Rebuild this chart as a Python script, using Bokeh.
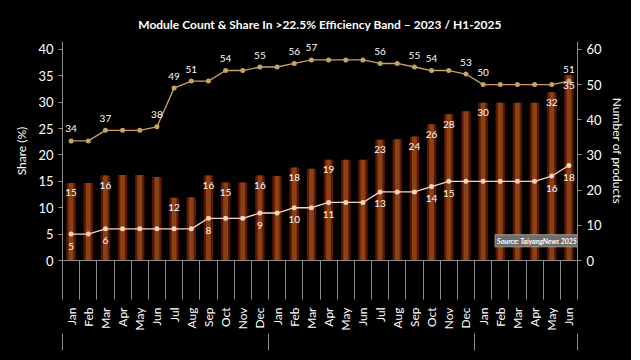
import math
from bokeh.plotting import figure
from bokeh.layouts import column
from bokeh.models import (Range1d, LinearAxis, ColumnDataSource, Legend,
                          LegendItem, Label, FixedTicker, Title)
from bokeh.core.properties import value
from bokeh.embed import file_html
from bokeh.resources import INLINE

years = ["2023"] * 12 + ["2024"] * 12 + ["H1-2025"] * 6
months = ["Jan", "Feb", "Mar", "Apr", "May", "Jun", "Jul", "Aug", "Sep", "Oct", "Nov", "Dec"] * 2 + \
         ["Jan", "Feb", "Mar", "Apr", "May", "Jun"]
share = [14.7, 14.7, 16.1, 16.2, 16.2, 15.8, 11.9, 12.0, 16.1, 14.8, 14.8, 16.1,
         16.0, 17.6, 17.4, 19.1, 19.1, 19.1, 22.9, 23.0, 23.5, 25.8, 27.7, 28.3,
         29.9, 29.9, 29.9, 29.9, 31.9, 35.1]
share_labels = ["15", "", "16", "", "", "", "12", "", "16", "15", "", "16",
                "", "18", "", "19", "", "", "23", "", "24", "26", "28", "",
                "30", "", "", "", "32", "35"]
count_hi = [5, 5, 6, 6, 6, 6, 6, 6, 8, 8, 8, 9,
            9, 10, 10, 11, 11, 11, 13, 13, 13, 14, 15, 15,
            15, 15, 15, 15, 16, 18]
count_hi_labels = ["5", "", "6", "", "", "", "", "", "8", "", "", "9",
                   "", "10", "", "11", "", "", "13", "", "", "14", "15", "",
                   "", "", "", "", "16", "18"]
total = [34, 34, 37, 37, 37, 38, 49, 51, 51, 54, 54, 55,
         55, 56, 57, 57, 57, 57, 56, 56, 55, 54, 54, 53,
         50, 50, 50, 50, 50, 51]
total_labels = ["34", "", "37", "", "", "38", "49", "51", "", "54", "", "55",
                "", "56", "57", "", "", "", "56", "", "55", "54", "", "53",
                "50", "", "", "", "", "51"]
year_groups = ["2023", "2024", "H1-2025"]

n = len(months)
xpos = [i + 0.5 for i in range(n)]          # category slots on the axis
group_sizes = [years.count(y) for y in year_groups]
bounds = [0]
for g in group_sizes:
    bounds.append(bounds[-1] + g)
centers = [(bounds[i] + bounds[i + 1]) / 2 for i in range(len(group_sizes))]

src = ColumnDataSource(dict(x=xpos, share=share, share_labels=share_labels,
                            count_hi=count_hi, count_hi_labels=count_hi_labels,
                            total=total, total_labels=total_labels))

FONT = "Lato"
GREY = "#8c8c8c"
BAR_OUT, BAR_IN = "#5e1508", "#8a4212"
TOT_C, CNT_C = "#c8a265", "#f3d6c8"

# a little head-room above the top tick so the top data labels are not clipped
HEAD = 1.0375
p = figure(frame_width=515, frame_height=219, x_range=Range1d(0, n), y_range=Range1d(0, 40 * HEAD),
           x_axis_location=None,
           output_backend="svg", toolbar_location=None,
           background_fill_color="black", border_fill_color="black",
           outline_line_color=None, min_border_left=62, min_border_right=54, min_border_top=41,
           min_border_bottom=0)
p.title = Title(text="Module Count & Share In >22.5% Efficiency Band \u2013 2023 / H1-2025",
                align="center", text_color="white", text_font=FONT, text_font_size="12px",
                text_font_style="bold", standoff=20, offset=8)
p.extra_y_ranges = {"count": Range1d(0, 60 * HEAD)}
p.xgrid.visible = False
p.ygrid.visible = False

# bars
outer = p.vbar(x="x", top="share", width=0.55, source=src, fill_color=BAR_OUT, line_color=None)
inner = p.vbar(x="x", top="share", width=0.28, source=src, fill_color=BAR_IN, line_color=None)

# lines
tl = p.line(x="x", y="total", source=src, y_range_name="count", line_color=TOT_C, line_width=1.3)
ts = p.scatter(x="x", y="total", source=src, y_range_name="count", size=5, fill_color=TOT_C, line_color=None)
cl = p.line(x="x", y="count_hi", source=src, line_color=CNT_C, line_width=1.3)
cs = p.scatter(x="x", y="count_hi", source=src, size=5, fill_color=CNT_C, line_color=None)

# labels
p.text(x="x", y="share", text="share_labels", source=src, text_color="white", text_font=value(FONT),
       text_font_size="10px", text_align="center", text_baseline="middle", y_offset=10)
p.text(x="x", y="count_hi", text="count_hi_labels", source=src, text_color="white", text_font=value(FONT),
       text_font_size="10px", text_align="center", text_baseline="middle", y_offset=12)
p.text(x="x", y="total", text="total_labels", source=src, y_range_name="count", text_color="white",
       text_font=value(FONT), text_font_size="10px", text_align="center", text_baseline="middle", y_offset=-12)

# axes styling
def style(ax):
    ax.axis_line_color = GREY
    ax.major_tick_line_color = GREY
    ax.minor_tick_line_color = None
    ax.major_label_text_color = "white"
    ax.major_label_text_font = FONT
    ax.major_label_text_font_size = "13px"
    ax.axis_label_text_color = "white"
    ax.axis_label_text_font = FONT
    ax.axis_label_text_font_size = "12px"
    ax.axis_label_text_font_style = "normal"
    ax.major_tick_in = 0
    ax.major_tick_out = 4

ly = p.yaxis[0]
ly.ticker = FixedTicker(ticks=[0, 5, 10, 15, 20, 25, 30, 35, 40])
ly.axis_label = "Share (%)"
style(ly)
ly.major_label_standoff = 5
ly.axis_label_standoff = 6
ry = LinearAxis(y_range_name="count", axis_label="Number of products",
                ticker=FixedTicker(ticks=[0, 10, 20, 30, 40, 50, 60]))
style(ry)
ry.major_label_standoff = 5
p.add_layout(ry, "right")

# month axis, with month separators drawn as outward minor ticks
xa = LinearAxis(ticker=FixedTicker(ticks=xpos, minor_ticks=list(range(n + 1))),
                major_label_overrides={x: m for x, m in zip(xpos, months)})
style(xa)
xa.major_tick_line_color = None
xa.major_tick_out = 0
xa.minor_tick_line_color = GREY
xa.minor_tick_in = 0
xa.minor_tick_out = 39
xa.major_label_orientation = math.pi / 2
xa.major_label_text_font_size = "12px"
xa.major_label_standoff = 8
p.add_layout(xa, "below")

# year labels axis; group separators continue downwards as minor ticks
ya = LinearAxis(ticker=FixedTicker(ticks=centers, minor_ticks=bounds),
                major_label_overrides={c: y for c, y in zip(centers, year_groups)})
style(ya)
ya.axis_line_color = None
ya.major_tick_line_color = None
ya.major_tick_out = 0
ya.minor_tick_line_color = GREY
ya.minor_tick_in = 0
ya.minor_tick_out = 17
ya.major_label_text_font_size = "12px"
ya.major_label_standoff = 5
p.add_layout(ya, "below")

# source box
p.add_layout(Label(x=25.2, y=2.6, text="Source: TaiyangNews 2025", text_color="white",
                   text_font=FONT, text_font_size="7px", text_font_style="bold italic",
                   background_fill_color="#6e6e6e", border_line_color="#9a9a9a",
                   padding=2))

# legend strip below the chart (proxy glyphs sit outside the strip's visible range)
lf = figure(width=620, height=26, output_backend="svg", toolbar_location=None,
            x_axis_location=None, y_axis_location=None, x_range=Range1d(0, 1), y_range=Range1d(0, 1),
            background_fill_color="black", border_fill_color="black", outline_line_color=None,
            min_border=0)
lf.xgrid.visible = False
lf.ygrid.visible = False
proxy = ColumnDataSource(dict(x=[5], y=[5]))
lb = lf.vbar(x="x", top="y", width=0.5, source=proxy, fill_color=BAR_IN, line_color=BAR_OUT, line_width=2)
lcl = lf.line(x="x", y="y", source=proxy, line_color=CNT_C, line_width=1.3)
lcs = lf.scatter(x="x", y="y", source=proxy, size=5, fill_color=CNT_C, line_color=None)
ltl = lf.line(x="x", y="y", source=proxy, line_color=TOT_C, line_width=1.3)
lts = lf.scatter(x="x", y="y", source=proxy, size=5, fill_color=TOT_C, line_color=None)
legend = Legend(items=[LegendItem(label=">22.5% - share", renderers=[lb]),
                       LegendItem(label=">22.5% - product count", renderers=[lcl, lcs]),
                       LegendItem(label="Total product count", renderers=[ltl, lts])],
                orientation="horizontal", location=(48, 11),
                background_fill_color="black", background_fill_alpha=0, border_line_color=None,
                label_text_color="white", label_text_font=FONT, label_text_font_size="11px",
                glyph_width=16, glyph_height=12, label_height=14, spacing=14, padding=0, margin=0)
lf.add_layout(legend)

layout = column(p, lf, spacing=0, background="black")
open("out.html", "w").write(file_html(layout, INLINE))
